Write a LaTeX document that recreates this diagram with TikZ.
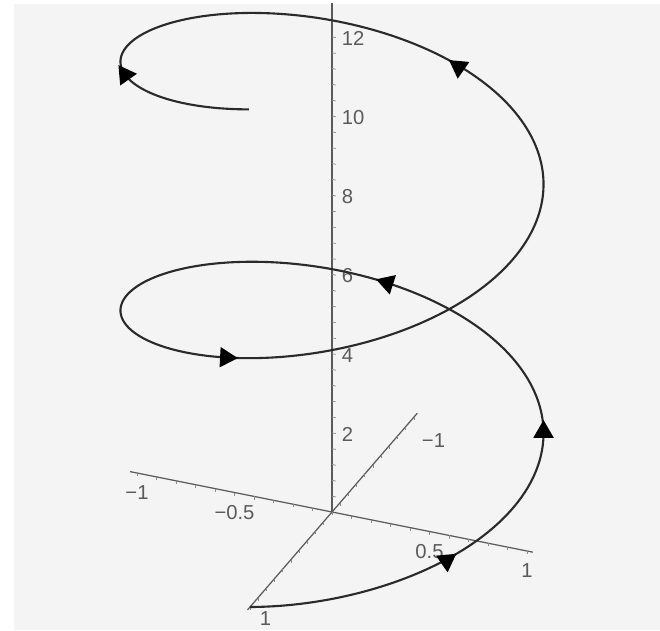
\documentclass[tikz,border=0pt]{standalone}
\usepackage{fontspec}
\setmainfont{Liberation Sans}
\usepackage{tikz}
\usetikzlibrary{shapes.geometric}
\definecolor{panel}{HTML}{F4F4F4}
\definecolor{axisgray}{HTML}{5A5A5A}
\definecolor{curvegray}{HTML}{2A2A2A}

\begin{document}
\begin{tikzpicture}[x={(3.9cm,-0.78cm)}, y={(-1.64cm,-1.9cm)}, z={(0cm,0.792cm)},
    axis/.style={draw=axisgray, line width=0.7pt},
    tick/.style={draw=axisgray!70, line width=0.4pt},
    ticklabel/.style={text=axisgray, font=\fontsize{11.5}{13}\selectfont, inner sep=1pt},
    helix/.style={draw=curvegray, line width=1.2pt},
    dirmark/.style={isosceles triangle, isosceles triangle apex angle=60, fill=black, inner sep=2.7pt}]
    \useasboundingbox (-6.64cm,-2.36cm) rectangle (6.56cm,10.24cm);
    \fill[white] (-6.64cm,-2.36cm) rectangle (6.56cm,10.24cm);
    \fill[panel] (-6.36cm,-2.36cm) rectangle (6.56cm,10.16cm);

    \coordinate (O) at (0,0,0);
    \coordinate (xneg) at (-1.035,0,0);
    \coordinate (xpos) at (1.03,0,0);
    \coordinate (ypos) at (0,1.03,0);
    \coordinate (yneg) at (0,-1.04,0);
    \coordinate (ztop) at (0,0,12.85);
    \draw[axis] (xneg) -- (xpos);
    \draw[axis] (ypos) -- (yneg);
    \draw[axis] (O) -- (ztop);
    \foreach \k in {-10,...,10} {
      \draw[tick] ({\k/10},0,0) -- ({\k/10},0,-0.08);
      \draw[tick] (0,{\k/10},0) -- (0,{\k/10},-0.08);
    }
    \foreach \k in {1,...,31} \draw[tick] (0,0,{\k*0.4}) -- (0.02,0,{\k*0.4});

    \foreach \v in {2,4,...,12} \node[ticklabel, anchor=west] (z\v) at (0.04,0,\v) {\v};
    \node[ticklabel] (xm1) at (-1,0,-0.5) {−1};
    \node[ticklabel] (xm05) at (-0.5,0,-0.5) {−0.5};
    \node[ticklabel] (xp05) at (0.5,0,-0.5) {0.5};
    \node[ticklabel] (xp1) at (1,0,-0.5) {1};
    \node[ticklabel] (ym1) at (0.1,-1,-0.5) {−1};
    \node[ticklabel] (yp1) at (0.08,1,-0.2) {1};

    \draw[helix] plot[domain=0:12.566, samples=400] ({sin(\x r)}, {cos(\x r)}, \x);
    \foreach \tpos/\ang [count=\i] in {0.97/-85, 1.97/90, 3.27/162, 6.15/-3, 9.18/-95, 11.62/125}
      \node[dirmark, rotate=\ang] (dir\i) at ({sin(\tpos r)}, {cos(\tpos r)}, \tpos) {};
\end{tikzpicture}
\end{document}
